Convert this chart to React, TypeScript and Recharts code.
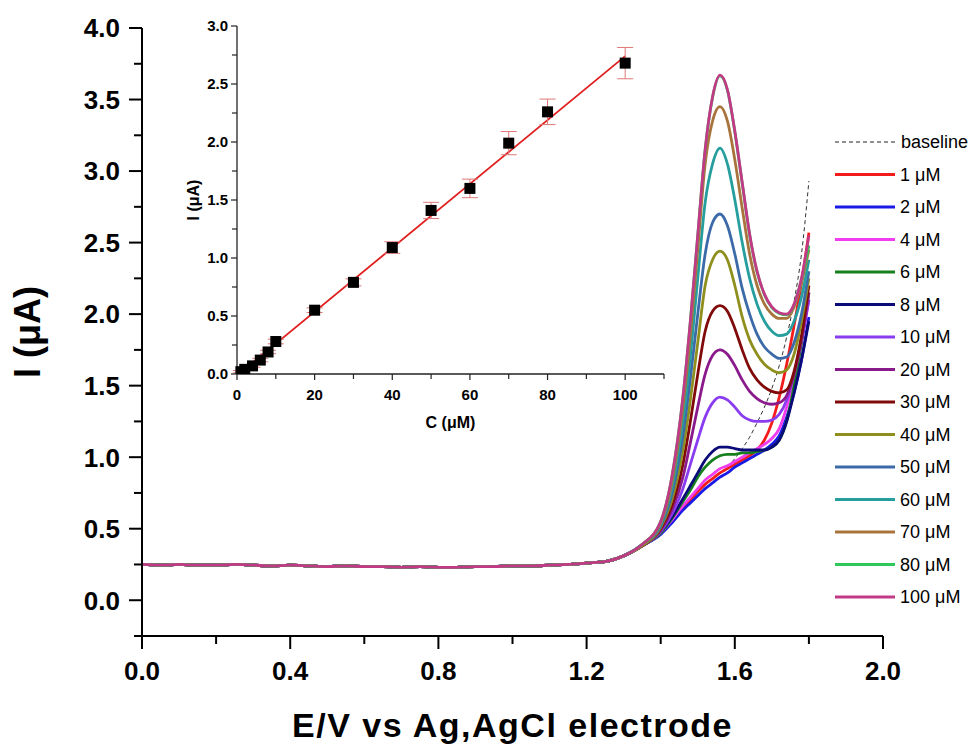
import React from 'react';
import { LineChart, Line, XAxis, YAxis, ComposedChart, Scatter, ErrorBar } from 'recharts';

const FONT = '"Liberation Sans", Arial, Helvetica, sans-serif';

// ---------- main voltammograms ----------
// low-potential flat region, shared by all curves
const flatE = [0, 0.05, 0.1, 0.15, 0.2, 0.25, 0.3, 0.35, 0.4, 0.45, 0.5, 0.55, 0.6, 0.65, 0.7, 0.75, 0.8, 0.85, 0.9, 0.95, 1.0, 1.05, 1.1, 1.15, 1.2];
const flatI = [0.25, 0.245, 0.25, 0.245, 0.245, 0.25, 0.245, 0.24, 0.245, 0.24, 0.235, 0.24, 0.235, 0.235, 0.23, 0.235, 0.23, 0.23, 0.235, 0.235, 0.24, 0.24, 0.245, 0.25, 0.26];

// oxidation region
const peakE = [1.25, 1.3, 1.35, 1.4, 1.43, 1.46, 1.48, 1.5, 1.52, 1.54, 1.56, 1.58, 1.6, 1.62, 1.64, 1.66, 1.68, 1.7, 1.72, 1.74, 1.76, 1.78, 1.8];
const i1 = [0.27, 0.31, 0.38, 0.47, 0.55, 0.64, 0.7, 0.76, 0.81, 0.85, 0.89, 0.92, 0.95, 0.98, 1.01, 1.05, 1.12, 1.24, 1.42, 1.65, 1.92, 2.22, 2.57];
const i2 = [0.27, 0.31, 0.38, 0.46, 0.54, 0.63, 0.68, 0.73, 0.78, 0.82, 0.86, 0.89, 0.93, 0.96, 0.99, 1.02, 1.05, 1.09, 1.15, 1.28, 1.45, 1.68, 1.98];
const i4 = [0.27, 0.31, 0.38, 0.47, 0.56, 0.66, 0.72, 0.78, 0.84, 0.88, 0.92, 0.94, 0.97, 1.0, 1.03, 1.06, 1.09, 1.13, 1.2, 1.35, 1.55, 1.8, 2.1];
const i6 = [0.27, 0.31, 0.38, 0.47, 0.57, 0.69, 0.77, 0.86, 0.93, 0.98, 1.01, 1.02, 1.02, 1.03, 1.03, 1.04, 1.05, 1.07, 1.12, 1.25, 1.5, 1.8, 2.15];
const i8 = [0.27, 0.31, 0.38, 0.48, 0.58, 0.71, 0.8, 0.89, 0.98, 1.04, 1.07, 1.07, 1.06, 1.05, 1.05, 1.05, 1.05, 1.07, 1.12, 1.25, 1.45, 1.68, 1.95];
const i10 = [0.27, 0.31, 0.38, 0.48, 0.6, 0.78, 0.95, 1.12, 1.28, 1.38, 1.42, 1.4, 1.35, 1.29, 1.26, 1.25, 1.25, 1.26, 1.3, 1.4, 1.58, 1.82, 2.1];
const i20 = [0.27, 0.31, 0.38, 0.49, 0.63, 0.86, 1.1, 1.35, 1.58, 1.71, 1.75, 1.72, 1.64, 1.54, 1.46, 1.41, 1.38, 1.37, 1.38, 1.43, 1.58, 1.82, 2.15];
const i30 = [0.27, 0.31, 0.38, 0.5, 0.66, 0.95, 1.25, 1.58, 1.88, 2.02, 2.06, 2.02, 1.9, 1.75, 1.62, 1.54, 1.49, 1.46, 1.45, 1.47, 1.6, 1.85, 2.2];
const i40 = [0.27, 0.31, 0.38, 0.51, 0.7, 1.05, 1.4, 1.8, 2.2, 2.38, 2.44, 2.38, 2.2, 1.98, 1.82, 1.72, 1.65, 1.61, 1.59, 1.61, 1.72, 1.95, 2.25];
const i50 = [0.27, 0.31, 0.39, 0.52, 0.74, 1.15, 1.55, 2.0, 2.42, 2.64, 2.7, 2.62, 2.42, 2.18, 2.0, 1.86, 1.77, 1.72, 1.69, 1.7, 1.8, 2.0, 2.3];
const i60 = [0.27, 0.31, 0.39, 0.53, 0.78, 1.25, 1.7, 2.25, 2.78, 3.05, 3.16, 3.05, 2.8, 2.5, 2.25, 2.07, 1.95, 1.88, 1.85, 1.86, 1.95, 2.12, 2.38];
const i70 = [0.27, 0.31, 0.39, 0.54, 0.82, 1.35, 1.85, 2.45, 3.05, 3.35, 3.45, 3.35, 3.08, 2.74, 2.42, 2.2, 2.07, 2.0, 1.97, 1.97, 2.05, 2.22, 2.45];
const i80 = [0.27, 0.31, 0.39, 0.55, 0.86, 1.42, 1.95, 2.55, 3.15, 3.515, 3.665, 3.565, 3.275, 2.915, 2.555, 2.295, 2.135, 2.045, 2.005, 1.995, 2.065, 2.245, 2.48];
const i100 = [0.27, 0.31, 0.39, 0.55, 0.86, 1.42, 1.95, 2.55, 3.15, 3.52, 3.67, 3.57, 3.28, 2.92, 2.56, 2.3, 2.14, 2.05, 2.01, 2.0, 2.07, 2.25, 2.55];

// dashed baseline
const baseE = [1.58, 1.6, 1.62, 1.64, 1.66, 1.68, 1.7, 1.72, 1.74, 1.76, 1.78, 1.8];
const baseI = [0.93, 0.99, 1.06, 1.14, 1.24, 1.35, 1.48, 1.64, 1.84, 2.09, 2.42, 2.93];

const seriesKeys = ['c1', 'c2', 'c4', 'c6', 'c8', 'c10', 'c20', 'c30', 'c40', 'c50', 'c60', 'c70', 'c80', 'c100'];
const seriesLabels = ['1 μM', '2 μM', '4 μM', '6 μM', '8 μM', '10 μM', '20 μM', '30 μM', '40 μM', '50 μM', '60 μM', '70 μM', '80 μM', '100 μM'];
const seriesValues = [i1, i2, i4, i6, i8, i10, i20, i30, i40, i50, i60, i70, i80, i100];
const seriesColors = ['#f21c1c', '#1a1ae6', '#f23cf0', '#16801c', '#0a0a78', '#8a3cf0', '#8a1a8c', '#800a0a', '#8f8f1e', '#3c6aa8', '#269e9e', '#a8743c', '#2ec85a', '#c23a86'];

// main axis ticks
const mainXTicks = [0, 0.2, 0.4, 0.6, 0.8, 1.0, 1.2, 1.4, 1.6, 1.8, 2.0];
const mainYTicks = [-0.25, 0, 0.25, 0.5, 0.75, 1.0, 1.25, 1.5, 1.75, 2.0, 2.25, 2.5, 2.75, 3.0, 3.25, 3.5, 3.75, 4.0];

// ---------- inset calibration ----------
const concC = [1, 2, 4, 6, 8, 10, 20, 30, 40, 50, 60, 70, 80, 100];
const concI = [0.02, 0.04, 0.07, 0.12, 0.19, 0.28, 0.55, 0.79, 1.09, 1.41, 1.6, 1.99, 2.26, 2.68];
const concErr = [0.01, 0.01, 0.012, 0.015, 0.015, 0.02, 0.02, 0.03, 0.05, 0.07, 0.08, 0.1, 0.11, 0.135];
const fitC = [0.5, 100];
const fitI = [0.0, 2.74];
const insetXTicks = [0, 10, 20, 30, 40, 50, 60, 70, 80, 90, 100, 110];
const insetYTicks = [0, 0.25, 0.5, 0.75, 1.0, 1.25, 1.5, 1.75, 2.0, 2.25, 2.5, 2.75, 3.0];

// ---------- build tables ----------
const mainRows: any[] = [];
flatE.forEach((e, k) => {
  const row: any = { E: e };
  seriesKeys.forEach((key) => { row[key] = flatI[k]; });
  mainRows.push(row);
});
peakE.forEach((e, k) => {
  const row: any = { E: e };
  seriesKeys.forEach((key, s) => { row[key] = seriesValues[s][k]; });
  const bi = baseE.findIndex((b) => Math.abs(b - e) < 1e-9);
  if (bi >= 0) row.baseline = baseI[bi];
  mainRows.push(row);
});

const insetPoints = concC.map((c, k) => ({ c, i: concI[k], err: concErr[k] }));
const fitRows = fitC.map((c, k) => ({ c, fit: fitI[k] }));

// ---------- tick renderers ----------
type TickOpts = {
  orient: 'left' | 'bottom';
  majorEvery: number;
  majorLen: number;
  minorLen: number;
  fontSize: number;
  labelGap: number;
  decimals: number;
  strokeWidth: number;
  stroke: string;
};

function makeTick(o: TickOpts) {
  return (props: any) => {
    const { x, y, payload } = props;
    const v = Number(payload.value);
    const r = v / o.majorEvery;
    const major = Math.abs(r - Math.round(r)) < 1e-6 && v >= 0;
    const len = major ? o.majorLen : o.minorLen;
    const label = major ? v.toFixed(o.decimals) : '';
    if (o.orient === 'left') {
      return (
        <g>
          <line x1={x} x2={x - len} y1={y} y2={y} stroke={o.stroke} strokeWidth={o.strokeWidth} />
          {major && (
            <text x={x - o.labelGap} y={y} dy="0.36em" textAnchor="end" fontSize={o.fontSize} fontWeight="bold" fontFamily={FONT} fill="#000">
              {label}
            </text>
          )}
        </g>
      );
    }
    return (
      <g>
        <line x1={x} x2={x} y1={y} y2={y + len} stroke={o.stroke} strokeWidth={o.strokeWidth} />
        {major && (
          <text x={x} y={y + o.labelGap} textAnchor="middle" fontSize={o.fontSize} fontWeight="bold" fontFamily={FONT} fill="#000">
            {label}
          </text>
        )}
      </g>
    );
  };
}

const mainYTick = makeTick({ orient: 'left', majorEvery: 0.5, majorLen: 13, minorLen: 8, fontSize: 26, labelGap: 22, decimals: 1, strokeWidth: 2, stroke: '#000' });
const mainXTick = makeTick({ orient: 'bottom', majorEvery: 0.4, majorLen: 13, minorLen: 8, fontSize: 26, labelGap: 44, decimals: 1, strokeWidth: 2, stroke: '#000' });
const insetYTick = makeTick({ orient: 'left', majorEvery: 0.5, majorLen: 6, minorLen: 5, fontSize: 15, labelGap: 9, decimals: 1, strokeWidth: 1.2, stroke: '#222' });
const insetXTick = makeTick({ orient: 'bottom', majorEvery: 20, majorLen: 6, minorLen: 5, fontSize: 15, labelGap: 26, decimals: 0, strokeWidth: 1.2, stroke: '#222' });

const Square = (p: any) => <rect x={p.cx - 5.5} y={p.cy - 5.5} width={11} height={11} fill="#000" />;

const yTitleMain = (p: any) => {
  const vb = p.viewBox || { x: 0, y: 28, width: 142, height: 608 };
  const cx = vb.x + 27;
  const cy = vb.y + vb.height / 2;
  return (
    <text x={cx} y={cy} dy="0.36em" transform={`rotate(-90 ${cx} ${cy})`} textAnchor="middle" fontSize={36} fontWeight="bold" fontFamily={FONT} fill="#000">
      I (μA)
    </text>
  );
};

const yTitleInset = (p: any) => {
  const vb = p.viewBox || { x: 160, y: 26, width: 77, height: 348 };
  const cx = vb.x + 33;
  const cy = vb.y + vb.height / 2;
  return (
    <text x={cx} y={cy} dy="0.36em" transform={`rotate(-90 ${cx} ${cy})`} textAnchor="middle" fontSize={16} fontWeight="bold" fontFamily={FONT} fill="#000">
      I (μA)
    </text>
  );
};

export default function App() {
  const legendX1 = 835;
  const legendX2 = 895;
  const legendTop = 142;
  const rowH = 32.5;
  return (
    <div style={{ position: 'absolute', left: 0, top: 0, width: 980, height: 745, background: '#fff', fontFamily: FONT }}>
      <div style={{ position: 'absolute', left: 0, top: 0 }}>
        <LineChart width={980} height={745} data={mainRows} margin={{ top: 28, right: 97, bottom: 0, left: 0 }}>
          <XAxis
            dataKey="E"
            type="number"
            domain={[0, 2]}
            ticks={mainXTicks}
            interval={0}
            height={109}
            tickSize={0}
            tickMargin={0}
            tickLine={false}
            axisLine={{ stroke: '#000', strokeWidth: 2 }}
            tick={mainXTick}
            label={{ value: 'E/V vs Ag,AgCl electrode', position: 'insideBottom', offset: 8, style: { fontSize: 34, fontWeight: 'bold', fontFamily: FONT, fill: '#000', letterSpacing: 1.5 } }}
          />
          <YAxis
            type="number"
            domain={[-0.25, 4]}
            ticks={mainYTicks}
            interval={0}
            width={142}
            tickSize={0}
            tickMargin={0}
            tickLine={false}
            allowDataOverflow
            axisLine={{ stroke: '#000', strokeWidth: 2 }}
            tick={mainYTick}
            label={{ content: yTitleMain }}
          />
          <Line dataKey="baseline" stroke="#333" strokeWidth={1} strokeDasharray="4 3" dot={false} activeDot={false} isAnimationActive={false} type="monotone" />
          {seriesKeys.map((key, s) => (
            <Line key={key} dataKey={key} stroke={seriesColors[s]} strokeWidth={2.8} dot={false} activeDot={false} isAnimationActive={false} type="monotone" />
          ))}
        </LineChart>
      </div>

      <div style={{ position: 'absolute', left: 160, top: 0 }}>
        <ComposedChart width={520} height={440} data={fitRows} margin={{ top: 26, right: 16, bottom: 0, left: 0 }}>
          <XAxis
            dataKey="c"
            type="number"
            domain={[0, 110]}
            ticks={insetXTicks}
            interval={0}
            height={66}
            tickSize={0}
            tickMargin={0}
            tickLine={false}
            axisLine={{ stroke: '#222', strokeWidth: 1.3 }}
            tick={insetXTick}
            label={{ value: 'C (μM)', position: 'insideBottom', offset: 12, style: { fontSize: 16, fontWeight: 'bold', fontFamily: FONT, fill: '#000' } }}
          />
          <YAxis
            type="number"
            domain={[0, 3]}
            ticks={insetYTicks}
            interval={0}
            width={77}
            tickSize={0}
            tickMargin={0}
            tickLine={false}
            allowDataOverflow
            axisLine={{ stroke: '#222', strokeWidth: 1.3 }}
            tick={insetYTick}
            label={{ content: yTitleInset }}
          />
          <Line data={fitRows} dataKey="fit" stroke="#e01e1e" strokeWidth={1.8} dot={false} activeDot={false} isAnimationActive={false} type="linear" />
          <Scatter data={insetPoints} dataKey="i" shape={Square} isAnimationActive={false}>
            <ErrorBar dataKey="err" direction="y" width={8} stroke="#e07878" strokeWidth={1} />
          </Scatter>
        </ComposedChart>
      </div>

      <svg style={{ position: 'absolute', left: 0, top: 0 }} width={980} height={745}>
        <line x1={legendX1} x2={legendX2} y1={legendTop} y2={legendTop} stroke="#222" strokeWidth={1} strokeDasharray="4 3" />
        <text x={legendX2 + 6} y={legendTop} dy="0.35em" fontSize={18} fontFamily={FONT} fill="#000">baseline</text>
        {seriesLabels.map((lab, s) => {
          const y = legendTop + rowH * (s + 1);
          return (
            <g key={lab}>
              <line x1={legendX1} x2={legendX2} y1={y} y2={y} stroke={seriesColors[s]} strokeWidth={3} />
              <text x={legendX2 + 5} y={y} dy="0.35em" fontSize={18} fontFamily={FONT} fill="#000">{lab}</text>
            </g>
          );
        })}
      </svg>
    </div>
  );
}
